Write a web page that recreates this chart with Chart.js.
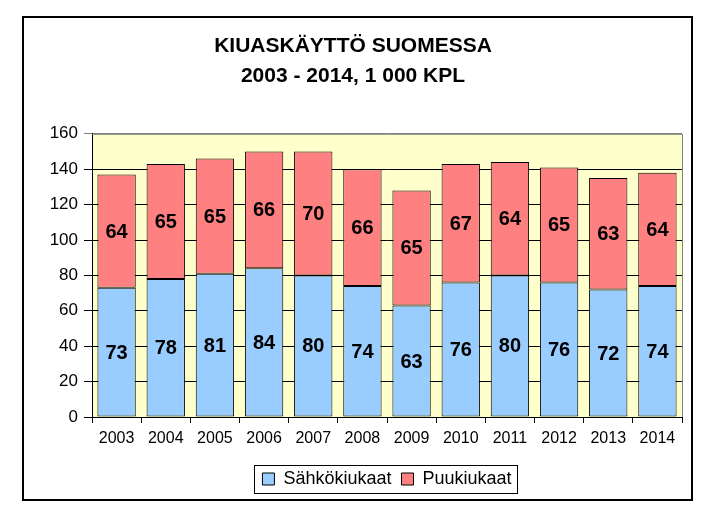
<!DOCTYPE html>
<html>
<head>
<meta charset="utf-8">
<script src="https://cdn.jsdelivr.net/npm/chart.js@4"></script>
<style>
  body { margin: 0; background: #fff; }
  #wrap { position: absolute; left: 0; top: 0; width: 728px; height: 525px; }
</style>
</head>
<body>
<div id="wrap"><canvas id="chart" width="728" height="525"></canvas></div>
<script>
const years = ["2003", "2004", "2005", "2006", "2007", "2008", "2009", "2010", "2011", "2012", "2013", "2014"];
const sahko = [73, 78, 81, 84, 80, 74, 63, 76, 80, 76, 72, 74];
const puu = [64, 65, 65, 66, 70, 66, 65, 67, 64, 65, 63, 64];
const yTicks = [0, 20, 40, 60, 80, 100, 120, 140, 160];

// frame, plot background, plot border and legend box
const framePlugin = {
  id: "frame",
  afterLayout(chart) {
    // centre the legend under the plot area
    const lg = chart.legend, a = chart.chartArea;
    const shift = (a.left + a.right) / 2 - (lg.left + lg.right) / 2;
    lg.left += shift;
    lg.right += shift;
  },
  beforeDraw(chart) {
    const c = chart.ctx, a = chart.chartArea;
    c.save();
    c.fillStyle = "#fff";
    c.fillRect(0, 0, chart.width, chart.height);
    c.strokeStyle = "#000";
    c.lineWidth = 2;
    c.strokeRect(23, 17, 669, 483);
    c.fillStyle = "#FFFFCC";
    c.fillRect(a.left, a.top, a.right - a.left, a.bottom - a.top);
    c.restore();
  },
  afterDraw(chart) {
    const c = chart.ctx, a = chart.chartArea;
    c.save();
    c.strokeStyle = "#808080";
    c.lineWidth = 1;
    c.beginPath();
    c.moveTo(a.left, a.top + 0.5);
    c.lineTo(a.right + 0.5, a.top + 0.5);
    c.lineTo(a.right + 0.5, a.bottom);
    c.stroke();
    const boxes = chart.legend.legendHitBoxes;
    if (boxes && boxes.length) {
      const l = boxes[0].left - 8;
      const last = boxes[boxes.length - 1];
      const r = last.left + last.width + 6;
      const mid = (chart.legend.top + chart.legend.bottom) / 2;
      c.strokeStyle = "#000";
      c.strokeRect(Math.round(l) + 0.5, Math.round(mid - 14) + 0.5, Math.round(r - l), 28);
    }
    c.restore();
  }
};

// value labels in the middle of each segment
const labelPlugin = {
  id: "segLabels",
  afterDatasetsDraw(chart) {
    const c = chart.ctx;
    c.save();
    c.font = "bold 20px Arial, 'Liberation Sans'";
    c.fillStyle = "#000";
    c.textAlign = "center";
    c.textBaseline = "middle";
    chart.data.datasets.forEach((ds, i) => {
      chart.getDatasetMeta(i).data.forEach((bar, j) => {
        const mid = (bar.y + bar.base) / 2;
        c.fillText(ds.data[j], bar.x, mid + 1);
      });
    });
    c.restore();
  }
};

const ctx = document.getElementById("chart").getContext("2d");
new Chart(ctx, {
  type: "bar",
  data: {
    labels: years,
    datasets: [
      { label: "Sähkökiukaat", data: sahko, backgroundColor: "#99CCFF", borderColor: "#000", borderWidth: 1, borderSkipped: false },
      { label: "Puukiukaat", data: puu, backgroundColor: "#FF8080", borderColor: "#000", borderWidth: 1, borderSkipped: false }
    ]
  },
  options: {
    responsive: false,
    animation: false,
    categoryPercentage: 1.0,
    barPercentage: 0.78,
    layout: { padding: { left: 24, right: 46, top: 16, bottom: 27 } },
    scales: {
      x: {
        stacked: true,
        offset: true,
        grid: { offset: true, drawOnChartArea: false, drawTicks: true, tickLength: 6, color: "#000" },
        border: { color: "#000", width: 1 },
        ticks: { color: "#000", font: { family: "Arial, 'Liberation Sans'", size: 16 }, padding: 6 },
        afterFit(s) { s.height = 43; }
      },
      y: {
        stacked: true,
        min: 0,
        max: 160,
        afterBuildTicks(s) { s.ticks = yTicks.map(v => ({ value: v })); },
        grid: {
          color: c => (c.tick && c.tick.value === 160 ? "#808080" : "#000"),
          tickLength: 8,
          drawTicks: true
        },
        border: { color: "#000", width: 1 },
        ticks: { color: "#000", font: { family: "Arial, 'Liberation Sans'", size: 17 }, padding: 6 },
        afterFit(s) { s.width = 68; }
      }
    },
    plugins: {
      title: {
        display: true,
        text: ["KIUASKÄYTTÖ SUOMESSA", "2003 - 2014, 1 000 KPL"],
        color: "#000",
        font: { family: "Arial, 'Liberation Sans'", size: 21, weight: "bold", lineHeight: 1.4 },
        padding: { top: 16, bottom: 43 }
      },
      legend: {
        position: "bottom",
        labels: {
          color: "#000",
          font: { family: "Arial, 'Liberation Sans'", size: 18 },
          boxWidth: 12,
          boxHeight: 12,
          padding: 10,
          useBorderRadius: false
        }
      },
      tooltip: { enabled: false }
    }
  },
  plugins: [framePlugin, labelPlugin]
});
</script>
</body>
</html>
